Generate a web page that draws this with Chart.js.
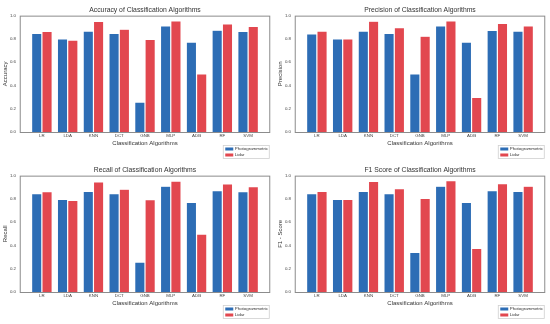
<!DOCTYPE html>
<html>
<head>
<meta charset="utf-8">
<script src="https://cdn.jsdelivr.net/npm/chart.js@4.4.1/dist/chart.umd.min.js"></script>
<style>
  body { margin: 0; background: #fff; }
  #wrap { position: relative; width: 550px; height: 324px; overflow: hidden; }
  canvas { position: absolute; }
</style>
</head>
<body>
<div id="wrap">
  <canvas id="accChart" width="275" height="162" style="left:0;top:0"></canvas>
  <canvas id="precChart" width="275" height="162" style="left:275px;top:0"></canvas>
  <canvas id="recChart" width="275" height="162" style="left:0;top:160px"></canvas>
  <canvas id="f1Chart" width="275" height="162" style="left:275px;top:160px"></canvas>
</div>
<script>
const algorithms = ["LR", "LDA", "KNN", "DCT", "GNB", "MLP", "ADB", "RF", "SVM"];
const yTicks = [0.0, 0.2, 0.4, 0.6, 0.8, 1.0];
const seriesNames = ["Photogrammetric", "Lidar"];

// values
const accuracyPhoto = [0.848, 0.801, 0.867, 0.848, 0.257, 0.911, 0.773, 0.875, 0.864];
const accuracyLidar = [0.864, 0.790, 0.950, 0.883, 0.795, 0.955, 0.500, 0.930, 0.908];
const precisionPhoto = [0.842, 0.801, 0.867, 0.848, 0.500, 0.911, 0.773, 0.873, 0.867];
const precisionLidar = [0.867, 0.801, 0.952, 0.897, 0.823, 0.955, 0.298, 0.933, 0.911];
const recallPhoto = [0.845, 0.796, 0.865, 0.845, 0.257, 0.909, 0.771, 0.870, 0.862];
const recallLidar = [0.862, 0.788, 0.947, 0.884, 0.793, 0.953, 0.498, 0.928, 0.906];
const f1Photo = [0.845, 0.796, 0.865, 0.845, 0.341, 0.909, 0.771, 0.870, 0.865];
const f1Lidar = [0.865, 0.796, 0.950, 0.889, 0.804, 0.956, 0.374, 0.931, 0.909];

const BLUE = "#2d6db5";
const RED = "#e2474f";
const FONT = "'Liberation Sans', Arial, sans-serif";

// matplotlib-like frame (with x margins) and the boxed legend under the axis
const framePlugin = {
  id: "frame",
  afterDatasetsDraw(chart) {
    const { ctx, chartArea: a } = chart;
    const cw = (a.right - a.left) / algorithms.length;
    const m = 0.34 * cw;
    ctx.save();
    ctx.strokeStyle = "#8c8c8c";
    ctx.lineWidth = 1;
    ctx.strokeRect(a.left - m, a.top + 0.5, a.right - a.left + 2 * m, a.bottom - a.top);
    ctx.restore();
  },
  afterDraw(chart) {
    const { ctx, chartArea: a } = chart;
    const cw = (a.right - a.left) / algorithms.length;
    const frameRight = a.right + 0.34 * cw;
    const bw = 46, bh = 13;
    const bx = frameRight - 1 - bw, by = a.bottom + 13;
    ctx.save();
    ctx.fillStyle = "#fff";
    ctx.strokeStyle = "#d0d0d0";
    ctx.lineWidth = 0.8;
    ctx.fillRect(bx, by, bw, bh);
    ctx.strokeRect(bx + 0.5, by + 0.5, bw, bh);
    ctx.font = "4.4px " + FONT;
    ctx.textBaseline = "middle";
    chart.data.datasets.forEach((ds, i) => {
      const yy = by + 4 + i * 6;
      ctx.fillStyle = ds.backgroundColor;
      ctx.fillRect(bx + 2.5, yy - 1.5, 8, 3);
      ctx.fillStyle = "#333";
      ctx.fillText(ds.label, bx + 12, yy);
    });
    ctx.restore();
  }
};

function makeChart(id, title, yLabel, photo, lidar) {
  const ctx = document.getElementById(id).getContext("2d");
  return new Chart(ctx, {
    type: "bar",
    data: {
      labels: algorithms,
      datasets: [
        { label: seriesNames[0], data: photo, backgroundColor: BLUE,
          borderColor: "rgba(255,255,255,0.35)", borderWidth: 0.6 },
        { label: seriesNames[1], data: lidar, backgroundColor: RED,
          borderColor: "rgba(255,255,255,0.35)", borderWidth: 0.6 }
      ]
    },
    options: {
      responsive: false,
      animation: false,
      devicePixelRatio: 1,
      layout: { padding: { left: 0, right: 14, top: 0, bottom: 15 } },
      datasets: { bar: { barPercentage: 1.0, categoryPercentage: 0.8 } },
      plugins: {
        legend: { display: false },
        tooltip: { enabled: false },
        title: {
          display: true,
          fullSize: false,
          text: title,
          color: "#333",
          font: { family: FONT, size: 6.8, weight: "normal" },
          padding: { top: 1.4, bottom: 1.4 }
        }
      },
      scales: {
        x: {
          grid: { display: false, drawTicks: false },
          border: { display: false },
          ticks: { color: "#444", font: { family: FONT, size: 4.4 }, padding: 1.5,
                   autoSkip: false, maxRotation: 0 },
          title: { display: true, text: "Classification Algorithms", color: "#333",
                   font: { family: FONT, size: 6 }, padding: { top: 0, bottom: 0 } },
          afterFit(scale) { scale.height = 15; }
        },
        y: {
          min: 0,
          max: 1,
          grid: { display: false, drawTicks: false },
          border: { display: false },
          afterBuildTicks(scale) { scale.ticks = yTicks.map(v => ({ value: v })); },
          ticks: { color: "#444", font: { family: FONT, size: 4.4 }, padding: 13,
                   callback: v => Number(v).toFixed(1) },
          title: { display: true, text: yLabel, color: "#333",
                   font: { family: FONT, size: 6 }, padding: { top: 2, bottom: 0 } },
          afterFit(scale) { scale.width = 29; }
        }
      }
    },
    plugins: [framePlugin]
  });
}

makeChart("accChart", "Accuracy of Classification Algorithms", "Accuracy", accuracyPhoto, accuracyLidar);
makeChart("precChart", "Precision of Classification Algorithms", "Precision", precisionPhoto, precisionLidar);
makeChart("recChart", "Recall of Classification Algorithms", "Recall", recallPhoto, recallLidar);
makeChart("f1Chart", "F1 Score of Classification Algorithms", "F1 - Score", f1Photo, f1Lidar);
</script>
</body>
</html>
